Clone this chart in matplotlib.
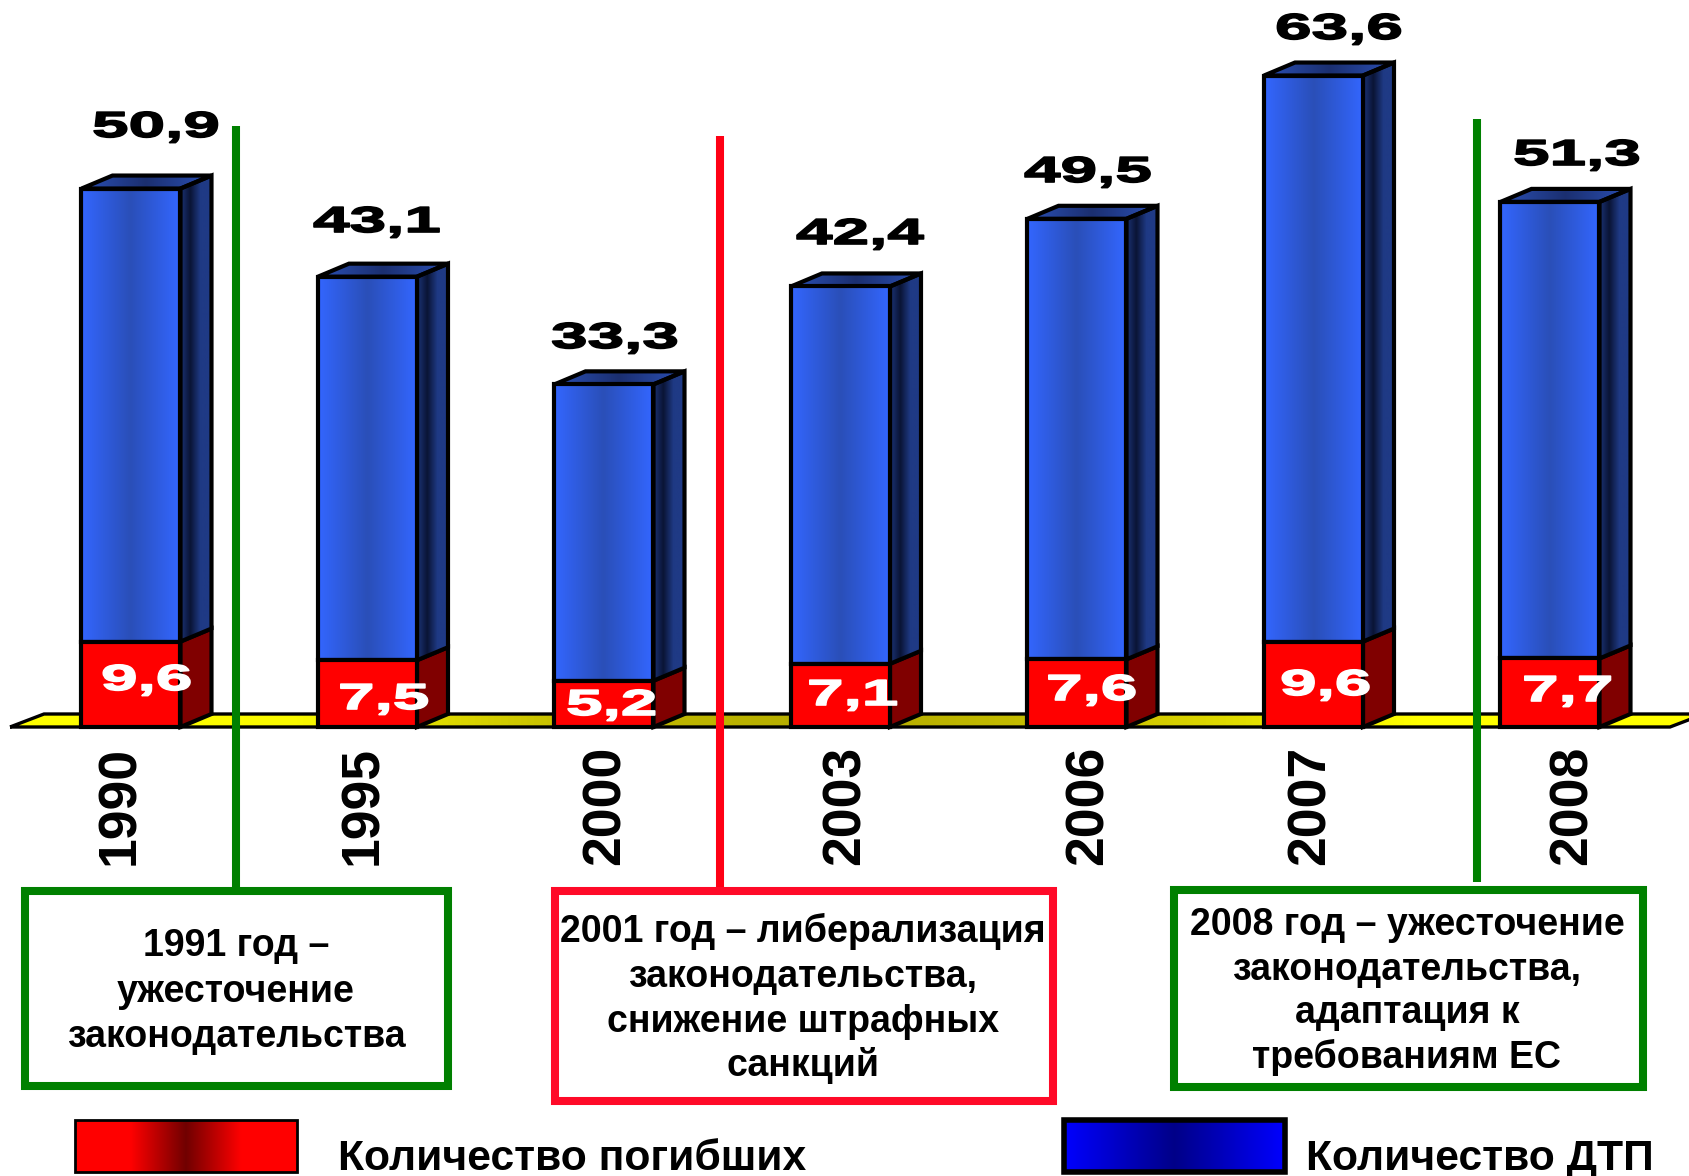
import numpy as np
import matplotlib
matplotlib.use('Agg')
import matplotlib.pyplot as plt
import matplotlib.patheffects as pe
from matplotlib.colors import LinearSegmentedColormap
from matplotlib.patches import Polygon, Rectangle
from matplotlib.transforms import Affine2D

years = ['1990', '1995', '2000', '2003', '2006', '2007', '2008']
dead = [9.6, 7.5, 5.2, 7.1, 7.6, 9.6, 7.7]
crashes = [50.9, 43.1, 33.3, 42.4, 49.5, 63.6, 51.3]

# label anchors in picture pixels
crash_lab_x = [92, 313, 551, 796, 1024, 1275, 1513]
crash_lab_y = [137, 232, 348, 244, 182, 39, 165]
dead_lab_x = [101, 338, 566, 807, 1046, 1280, 1522]
dead_lab_y = [690, 709, 715, 705, 700, 695, 701]
year_x = [120, 363, 606, 846, 1089, 1311, 1573]

W, H = 1690, 1176
X0, STEP = 131, 236.5
BASE, UNIT = 727, 8.9
BAR = 99 / STEP
DX, DY = 31 / STEP, 13 / UNIT
EDGE = 3

plt.rcParams['font.family'] = ['Liberation Sans', 'DejaVu Sans']
plt.rcParams['font.weight'] = 'bold'


class Stretch(pe.AbstractPathEffect):
    # the original numbers are set in a very wide, heavy face
    def __init__(self, sx, stroke=0):
        super().__init__()
        self.sx = sx
        self.stroke = stroke

    def draw_path(self, renderer, gc, tpath, affine, rgbFace=None):
        gc0 = renderer.new_gc()
        gc0.copy_properties(gc)
        gc0.set_linewidth(self.stroke)
        gc0.set_foreground(rgbFace)
        renderer.draw_path(gc0, tpath, Affine2D().scale(self.sx, 1) + affine, rgbFace)
        gc0.restore()


def gradient(ax, pts, cols, z, lw=EDGE):
    pts = np.array(pts)
    cmap = LinearSegmentedColormap.from_list('g', cols)
    ext = (pts[:, 0].min(), pts[:, 0].max(), pts[:, 1].min(), pts[:, 1].max())
    im = ax.imshow(np.linspace(0, 1, 256)[None, :], cmap=cmap, extent=ext,
                   aspect='auto', origin='lower', zorder=z, interpolation='bilinear')
    clip = Polygon(pts, closed=True, transform=ax.transData)
    im.set_clip_path(clip)
    ax.add_patch(Polygon(pts, closed=True, fill=False, ec='black', lw=lw,
                         joinstyle='miter', zorder=z + 0.1))


fig = plt.figure(figsize=(W / 100, H / 100), dpi=100)
ax = fig.add_axes([0, 0, 1, 1])
ax.axis('off')

# floor
fl_l = (10 - X0) / STEP
fl_r = (1670 - X0) / STEP
gradient(ax, [(fl_l, 0), (fl_l + 34 / STEP, DY), (fl_r + 34 / STEP, DY), (fl_r, 0)],
         ['#ffff00', '#fafa00', '#c4bc00', '#b4ac00', '#d0c800', '#ffff00', '#ffff00'], 1, lw=2.4)

BLUE_F = ['#3366ff', '#2a4fb8', '#3366ff']
BLUE_S = ['#1c3478', '#0a1435', '#1f3a85', '#1f3a85']
BLUE_T = ['#2b50b5', '#1b2f70', '#2b50b5']

for i, (d, c) in enumerate(zip(dead, crashes)):
    l = i - BAR / 2
    r = i + BAR / 2
    t = d + c
    ax.add_patch(Polygon([(r, 0), (r + DX, DY), (r + DX, d + DY), (r, d)], closed=True,
                         fc='#800000', ec='black', lw=EDGE, zorder=2))
    gradient(ax, [(r, d), (r + DX, d + DY), (r + DX, t + DY), (r, t)], BLUE_S, 2)
    gradient(ax, [(l, t), (l + DX, t + DY), (r + DX, t + DY), (r, t)], BLUE_T, 2)
    gradient(ax, [(l, d), (l, t), (r, t), (r, d)], BLUE_F, 3)

ax.bar(range(len(years)), dead, width=BAR, color='#ff0000', edgecolor='black',
       linewidth=EDGE, zorder=3.5)

ax.set_xlim(-X0 / STEP, (W - X0) / STEP)
ax.set_ylim((BASE - H) / UNIT, BASE / UNIT)

# overlay in picture pixels for lines, boxes and captions
ov = fig.add_axes([0, 0, 1, 1])
ov.axis('off')
ov.patch.set_alpha(0)
ov.set_xlim(0, W)
ov.set_ylim(H, 0)

GREEN = '#008000'
RED = '#ff0a28'
LINE = 5.8

ov.plot([236, 236], [126, 888], color=GREEN, lw=LINE, solid_capstyle='butt', zorder=4)
ov.plot([720, 720], [136, 888], color='#ff0014', lw=LINE, solid_capstyle='butt', zorder=4)
ov.plot([1477, 1477], [119, 882], color=GREEN, lw=LINE, solid_capstyle='butt', zorder=4)

for x0, y0, x1, y1, col in [(25, 891, 448, 1086, GREEN),
                            (555, 891, 1053, 1101, RED),
                            (1174, 890, 1643, 1087, GREEN)]:
    ov.add_patch(Rectangle((x0, y0), x1 - x0, y1 - y0, fc='white', ec=col, lw=LINE, zorder=4))

box_lines = [
    (236, [946, 992, 1037], ['1991 год –', 'ужесточение', 'законодательства']),
    (803, [931, 977, 1022, 1066], ['2001 год – либерализация', 'законодательства,',
                                   'снижение штрафных', 'санкций']),
    (1407, [925, 970, 1013, 1057], ['2008 год – ужесточение', 'законодательства,',
                                    'адаптация к', 'требованиям ЕС']),
]
for x, ys, lines in box_lines:
    for y, s in zip(ys, lines):
        ov.text(x, y, s, ha='center', va='center', fontsize=27, zorder=5)

for i, y in enumerate(years):
    ov.text(year_x[i], 746, y, rotation=90, ha='center', va='top', fontsize=38.5, zorder=5)

wide = [Stretch(1.82, stroke=1.2)]
for i in range(len(years)):
    ov.text(crash_lab_x[i], crash_lab_y[i], str(crashes[i]).replace('.', ','), ha='left',
            va='baseline', fontsize=26, color='black', path_effects=wide, zorder=5)
    ov.text(dead_lab_x[i], dead_lab_y[i], str(dead[i]).replace('.', ','), ha='left',
            va='baseline', fontsize=26, color='white', path_effects=wide, zorder=5)

# legend swatches
gradient(ov, [(75, 1172), (75, 1120), (297, 1120), (297, 1172)],
         ['#ff0000', '#ff0000', '#700000', '#ff0000', '#ff0000'], 4, lw=2)
gradient(ov, [(1064, 1172), (1064, 1120), (1285, 1120), (1285, 1172)],
         ['#0000ff', '#000088', '#0000ff'], 4, lw=4)
ov.set_xlim(0, W)
ov.set_ylim(H, 0)

ov.text(338, 1170, 'Количество погибших', ha='left', va='baseline', fontsize=30.7, zorder=5)
ov.text(1306, 1170, 'Количество ДТП', ha='left', va='baseline', fontsize=30.7, zorder=5)

fig.savefig('out.png', dpi=100)
